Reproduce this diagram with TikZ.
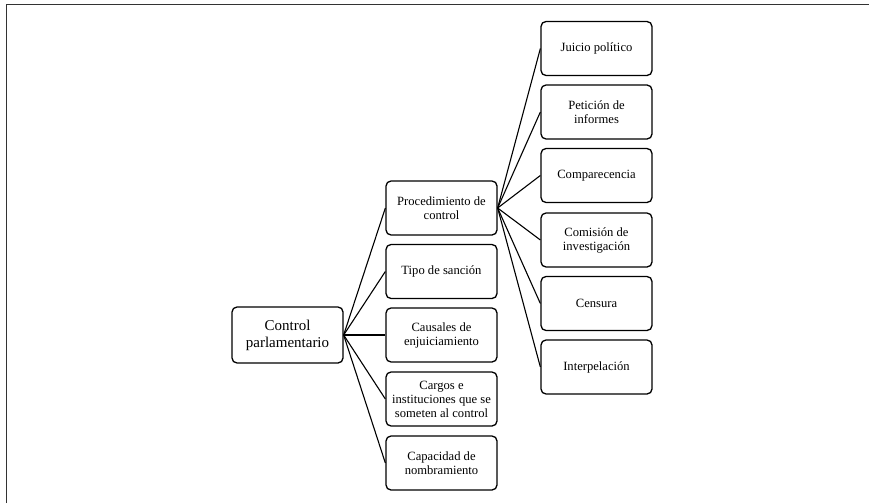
\documentclass[tikz,border=0pt]{standalone}
\usepackage{fontspec}
\setmainfont{Liberation Serif}
\begin{document}
\begin{tikzpicture}[x=1pt,y=-1pt,
  box/.style={draw, line width=1.3pt, rounded corners=5pt, minimum width=111pt, minimum height=54pt, align=center, font=\fontsize{12.6}{14}\selectfont, inner sep=2pt},
  rootbox/.style={box, minimum width=111pt, minimum height=56pt, font=\fontsize{15}{16.8}\selectfont},
  link/.style={line width=1.1pt}]
\useasboundingbox (0,0) rectangle (869,503);
\draw[line width=1.3pt, draw=black!80] (6.5,503) -- (6.5,4.5) -- (869,4.5);
\node[rootbox] (root) at (287.5,335) {Control\\parlamentario};
\node[box] (proc) at (441.5,208) {Procedimiento de\\control};
\node[box] (tipo) at (441.5,271.5) {Tipo de sanción};
\node[box] (caus) at (441.5,335) {Causales de\\enjuiciamiento};
\node[box] (carg) at (441.5,399) {Cargos e\\instituciones que se\\someten al control};
\node[box] (capa) at (441.5,463) {Capacidad de\\nombramiento};
\node[box] (juic) at (596.5,48.5) {Juicio político};
\node[box] (peti) at (596.5,112) {Petición de\\informes};
\node[box] (comp) at (596.5,175.5) {Comparecencia};
\node[box] (comi) at (596.5,240) {Comisión de\\investigación};
\node[box] (cens) at (596.5,303.5) {Censura};
\node[box] (inte) at (596.5,367) {Interpelación};
\foreach \c in {proc,tipo,caus,carg,capa} \draw[link] (root.east) -- (\c.west);
\foreach \c in {juic,peti,comp,comi,cens,inte} \draw[link] (proc.east) -- (\c.west);
\end{tikzpicture}
\end{document}
